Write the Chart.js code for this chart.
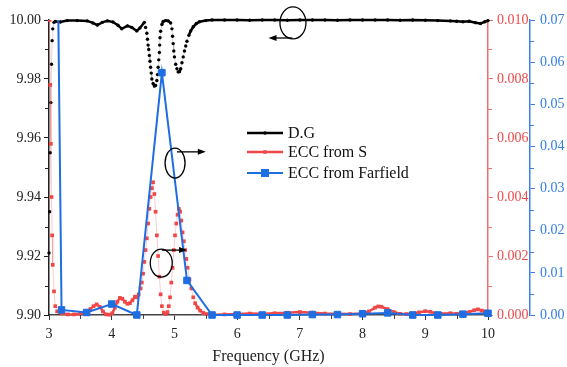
<!DOCTYPE html>
<html>
<head>
<meta charset="utf-8">
<script src="https://cdn.jsdelivr.net/npm/chart.js@4.4.0/dist/chart.umd.min.js"></script>
<style>
  html, body { margin: 0; padding: 0; background: #fff; }
  #wrap { width: 567px; height: 367px; }
</style>
</head>
<body>
<div id="wrap"><canvas id="chart" width="567" height="367"></canvas></div>
<script>
// D.G (left axis)
const freqDG = [3.00, 3.01, 3.02, 3.03, 3.04, 3.05, 3.06, 3.08, 3.10, 3.18, 3.29, 3.45, 3.61, 3.70, 3.77,
  3.85, 3.93, 4.02, 4.10, 4.16, 4.25, 4.32, 4.40, 4.45, 4.52, 4.54, 4.56, 4.57, 4.58, 4.59, 4.60, 4.61,
  4.62, 4.63, 4.64, 4.66, 4.68, 4.70, 4.72, 4.73, 4.74, 4.75, 4.76, 4.765, 4.77, 4.78, 4.80, 4.82, 4.86,
  4.90, 4.94, 4.96, 4.97, 4.98, 4.99, 5.00, 5.02, 5.04, 5.06, 5.08, 5.10, 5.12, 5.14, 5.16, 5.18, 5.20,
  5.23, 5.26, 5.30, 5.35, 5.40, 5.50, 5.60, 5.80, 6.00, 6.20, 6.40, 6.60, 6.80, 7.00, 7.20, 7.40, 7.60,
  7.80, 8.00, 8.20, 8.40, 8.60, 8.80, 9.00, 9.20, 9.40, 9.50, 9.60, 9.70, 9.80, 9.88, 9.95, 10.00];
const dg = [9.921, 9.935, 9.955, 9.972, 9.985, 9.993, 9.997, 9.9992, 9.9995, 9.9993, 9.9998, 9.9998, 9.9997, 9.9990, 9.9983,
  9.9992, 9.9997, 9.9993, 9.9982, 9.9970, 9.9980, 9.9975, 9.9963, 9.9973, 9.9992, 9.9975, 9.9955, 9.9935, 9.9915, 9.9900, 9.9880, 9.9860,
  9.9840, 9.9820, 9.9800, 9.9785, 9.9776, 9.9778, 9.9795, 9.9815, 9.9840, 9.9865, 9.9890, 9.9915, 9.9940, 9.9962, 9.9985, 9.9995, 9.9998,
  9.9997, 9.9990, 9.9970, 9.9945, 9.9920, 9.9895, 9.9875, 9.9850, 9.9835, 9.9824, 9.9825, 9.9835, 9.9855, 9.9875, 9.9895, 9.9912, 9.9928,
  9.9948, 9.9963, 9.9977, 9.9988, 9.9994, 9.9998, 10.0, 10.0, 10.0, 9.9999, 10.0, 10.0, 9.9999, 10.0, 10.0, 10.0, 9.9999,
  10.0, 10.0, 10.0, 10.0, 9.9999, 10.0, 9.9999, 9.9998, 9.9997, 9.9996, 9.9994, 9.9996, 9.9991, 9.9988, 9.9994, 9.9998];

// ECC from S (first right axis)
const freqS = [3.00, 3.01, 3.02, 3.03, 3.04, 3.05, 3.06, 3.08, 3.10, 3.13, 3.20, 3.30, 3.40, 3.50, 3.60, 3.66,
  3.71, 3.76, 3.81, 3.86, 3.91, 3.96, 4.01, 4.05, 4.09, 4.13, 4.17, 4.21, 4.25, 4.29, 4.33, 4.37, 4.40, 4.43,
  4.46, 4.48, 4.50, 4.52, 4.54, 4.56, 4.58, 4.60, 4.62, 4.64, 4.66, 4.68, 4.70, 4.72, 4.74, 4.76, 4.78, 4.80,
  4.83, 4.86, 4.89, 4.91, 4.93, 4.95, 4.97, 4.99, 5.01, 5.03, 5.05, 5.07, 5.09, 5.11, 5.13, 5.15, 5.17, 5.19,
  5.21, 5.24, 5.27, 5.30, 5.33, 5.37, 5.41, 5.46, 5.52, 5.60, 5.80, 6.00, 6.20, 6.40, 6.60, 6.80, 7.00, 7.20,
  7.40, 7.60, 7.80, 8.00, 8.10, 8.20, 8.25, 8.30, 8.40, 8.50, 8.60, 8.70, 8.80, 8.90, 9.00, 9.08, 9.15, 9.25,
  9.40, 9.50, 9.60, 9.70, 9.78, 9.84, 9.90, 9.95, 10.00];
const eccS = [0.0130, 0.0100, 0.0078, 0.0058, 0.0040, 0.0027, 0.0017, 0.0008, 0.0003, 0.00012, 0.00005, 0.00002, 0.00002, 0.00004, 0.00010, 0.00020,
  0.00030, 0.00036, 0.00028, 0.00012, 0.00002, 0.00001, 0.00006, 0.00025, 0.00045, 0.00058, 0.00055, 0.00045, 0.00038, 0.00040, 0.00050, 0.00062, 0.00060, 0.00070,
  0.00090, 0.0011, 0.0014, 0.0018, 0.0022, 0.0026, 0.0031, 0.0036, 0.0040, 0.0043, 0.0045, 0.0041, 0.0035, 0.0027, 0.0020, 0.0013, 0.0007, 0.0003,
  0.00008, 0.00003, 0.0001, 0.0003, 0.0006, 0.0011, 0.0016, 0.0022, 0.0027, 0.0031, 0.0034, 0.0036, 0.0035, 0.0032, 0.0028, 0.0025, 0.0022, 0.0019,
  0.0016, 0.0012, 0.0009, 0.0006, 0.0004, 0.00025, 0.00015, 0.00007, 0.00003, 0.00001, 0.00002, 0.00003, 0.00005, 0.00004, 0.00006, 0.00008, 0.0001, 0.00008,
  0.00005, 0.00004, 0.00003, 0.00005, 0.00012, 0.00025, 0.00029, 0.00028, 0.00020, 0.00010, 0.00004, 0.00003, 0.00005, 0.00009, 0.00013, 0.00011, 0.00006, 0.00004,
  0.00006, 0.00004, 0.00007, 0.0001, 0.00016, 0.00019, 0.00015, 0.00012, 0.0001];

// ECC from Farfield (second right axis)
const freqFF = [3.0, 3.2, 3.6, 4.0, 4.4, 4.8, 5.2, 5.6, 6.0, 6.4, 6.8, 7.2, 7.6, 8.0, 8.4, 8.8, 9.2, 9.6, 10.0];
const eccFF = [0.27, 0.0012, 0.0006, 0.0026, 0.0, 0.0575, 0.0082, 0.0, 0.0, 0.0, 0.0, 0.0001, 0.0001, 0.0003, 0.0005, 0.0, 0.0, 0.0002, 0.0004];

const RED = 'rgb(240,72,72)';
const BLUE = 'rgb(30,110,225)';
const FONT = "'Liberation Serif', 'Times New Roman', serif";

const pts = (xs, ys) => xs.map((x, i) => ({ x: x, y: ys[i] }));
const steep = (ctx) => Math.abs(ctx.p1.y - ctx.p0.y) > 2.5 * Math.abs(ctx.p1.x - ctx.p0.x);

// ellipse + arrow callouts, in data units of x / left axis
const callouts = [
  { at: [6.89, 9.9990], rx: 13, ry: 16, from: [6.88, 9.9939], to: [6.50, 9.9939] },
  { at: [5.01, 9.9515], rx: 10, ry: 15, from: [5.04, 9.9553], to: [5.50, 9.9553] },
  { at: [4.79, 9.9176], rx: 11, ry: 14, from: [4.80, 9.9220], to: [5.20, 9.9220] }
];

const calloutPlugin = {
  id: 'callouts',
  afterDatasetsDraw(chart) {
    const { ctx, scales } = chart;
    const px = v => scales.x.getPixelForValue(v);
    const py = v => scales.y.getPixelForValue(v);
    ctx.save();
    ctx.strokeStyle = '#000';
    ctx.fillStyle = '#000';
    ctx.lineWidth = 1.3;
    callouts.forEach(c => {
      ctx.beginPath();
      ctx.ellipse(px(c.at[0]), py(c.at[1]), c.rx, c.ry, 0, 0, Math.PI * 2);
      ctx.stroke();
      const x0 = px(c.from[0]), y0 = py(c.from[1]);
      const x1 = px(c.to[0]), y1 = py(c.to[1]);
      const dir = Math.sign(x1 - x0);
      ctx.beginPath();
      ctx.moveTo(x0, y0);
      ctx.lineTo(x1 - dir * 6, y1);
      ctx.stroke();
      ctx.beginPath();
      ctx.moveTo(x1, y1);
      ctx.lineTo(x1 - dir * 8, y1 - 3);
      ctx.lineTo(x1 - dir * 8, y1 + 3);
      ctx.closePath();
      ctx.fill();
    });
    ctx.restore();
  }
};

const minorTicks = {
  id: 'minorTicks',
  afterDraw(chart) {
    const ctx = chart.ctx;
    ['x', 'y', 'y1', 'y2'].forEach(id => {
      const s = chart.scales[id];
      const t = s.ticks;
      ctx.save();
      ctx.strokeStyle = s.options.border.color;
      ctx.lineWidth = 1;
      ctx.beginPath();
      for (let i = 0; i < t.length - 1; i++) {
        const p = Math.round(s.getPixelForValue((t[i].value + t[i + 1].value) / 2)) + 0.5;
        if (id === 'x') { ctx.moveTo(p, s.top); ctx.lineTo(p, s.top + 4); }
        else if (id === 'y') { ctx.moveTo(s.right, p); ctx.lineTo(s.right - 4, p); }
        else { ctx.moveTo(s.left, p); ctx.lineTo(s.left + 4, p); }
      }
      ctx.stroke();
      ctx.restore();
    });
  }
};

const legendItems = [
  { label: 'D.G', color: '#000', width: 2.5, marker: 'circle', size: 1.8 },
  { label: 'ECC from S', color: RED, width: 2.5, marker: 'rect', size: 3.5 },
  { label: 'ECC from Farfield', color: BLUE, width: 2, marker: 'rect', size: 8 }
];

const legendPlugin = {
  id: 'sideLegend',
  afterDraw(chart) {
    const ctx = chart.ctx;
    const x0 = 247, x1 = 283, rows = [133, 152, 173];
    ctx.save();
    ctx.font = '16px ' + FONT;
    ctx.textBaseline = 'middle';
    legendItems.forEach((it, i) => {
      const y = rows[i];
      ctx.strokeStyle = it.color;
      ctx.fillStyle = it.color;
      ctx.lineWidth = it.width;
      ctx.beginPath();
      ctx.moveTo(x0, y);
      ctx.lineTo(x1, y);
      ctx.stroke();
      const mx = (x0 + x1) / 2;
      if (it.marker === 'circle') {
        ctx.beginPath();
        ctx.arc(mx, y, it.size, 0, Math.PI * 2);
        ctx.fill();
      } else {
        ctx.fillRect(mx - it.size / 2, y - it.size / 2, it.size, it.size);
      }
      ctx.fillStyle = '#111';
      ctx.fillText(it.label, 288, y + 1);
    });
    ctx.restore();
  }
};

Chart.defaults.font.family = FONT;

new Chart(document.getElementById('chart').getContext('2d'), {
  type: 'line',
  data: {
    datasets: [
      {
        label: 'D.G',
        data: pts(freqDG, dg),
        yAxisID: 'y',
        order: 2,
        borderColor: '#000',
        borderWidth: 2.5,
        pointRadius: 1.7,
        pointBorderWidth: 0,
        pointBackgroundColor: '#000',
        clip: { left: 4, right: 4, top: 3, bottom: 0 },
        segment: {
          borderColor: ctx => steep(ctx) ? 'rgba(0,0,0,0.25)' : '#000',
          borderWidth: ctx => steep(ctx) ? 0.6 : 2.5
        }
      },
      {
        label: 'ECC from S',
        data: pts(freqS, eccS),
        yAxisID: 'y1',
        order: 1,
        borderColor: RED,
        borderWidth: 2.5,
        pointStyle: 'rect',
        pointRadius: 2.6,
        pointBorderWidth: 0,
        pointBackgroundColor: RED,
        clip: { left: 3, right: 5, top: 0, bottom: 4 },
        segment: {
          borderColor: ctx => steep(ctx) ? 'rgba(240,72,72,0.35)' : RED,
          borderWidth: ctx => steep(ctx) ? 0.8 : 2.5
        }
      },
      {
        label: 'ECC from Farfield',
        data: pts(freqFF, eccFF),
        yAxisID: 'y2',
        order: 0,
        borderColor: BLUE,
        borderWidth: 2,
        pointStyle: 'rect',
        pointRadius: 4.6,
        pointBorderWidth: 1,
        pointBorderColor: BLUE,
        pointBackgroundColor: BLUE,
        clip: { left: 0, right: 6, top: 0, bottom: 6 }
      }
    ]
  },
  options: {
    responsive: false,
    animation: false,
    events: [],
    layout: { padding: { top: 20, left: 0, right: 0, bottom: 0 } },
    plugins: { legend: { display: false }, tooltip: { enabled: false } },
    scales: {
      x: {
        type: 'linear',
        min: 3,
        max: 10,
        afterFit: s => { s.height = 52; },
        ticks: { stepSize: 1, autoSkip: false, maxRotation: 0, padding: 6, color: '#222', font: { size: 14 } },
        grid: { drawOnChartArea: false, tickLength: 5, color: '#333' },
        border: { color: '#444', width: 1.5 },
        title: { display: true, text: 'Frequency (GHz)', color: '#222', font: { size: 16 }, padding: { top: 0, bottom: 1 } }
      },
      y: {
        position: 'left',
        min: 9.90,
        max: 10.00,
        afterFit: s => { s.width = 49; },
        ticks: { stepSize: 0.02, autoSkip: false, padding: 3, color: '#222', font: { size: 14 },
          callback: v => Number(v).toFixed(2) },
        grid: { drawOnChartArea: false, tickLength: 5, color: '#222' },
        border: { color: '#222', width: 1.5 }
      },
      y1: {
        position: 'right',
        weight: 1,
        min: 0,
        max: 0.010,
        afterFit: s => { s.width = 42; },
        ticks: { stepSize: 0.002, autoSkip: false, padding: 4, color: RED, font: { size: 14 },
          callback: v => Number(v).toFixed(3) },
        grid: { drawOnChartArea: false, tickLength: 5, color: 'rgb(244,110,110)' },
        border: { color: 'rgb(244,110,110)', width: 1.5 }
      },
      y2: {
        position: 'right',
        weight: 2,
        min: 0,
        max: 0.07,
        afterFit: s => { s.width = 37; },
        ticks: { stepSize: 0.01, autoSkip: false, padding: 5, color: 'rgb(50,125,228)', font: { size: 14 },
          callback: v => Number(v).toFixed(2) },
        grid: { drawOnChartArea: false, tickLength: 5, color: 'rgb(60,130,230)' },
        border: { color: 'rgb(60,130,230)', width: 1.5 }
      }
    }
  },
  plugins: [calloutPlugin, minorTicks, legendPlugin]
});
</script>
</body>
</html>
